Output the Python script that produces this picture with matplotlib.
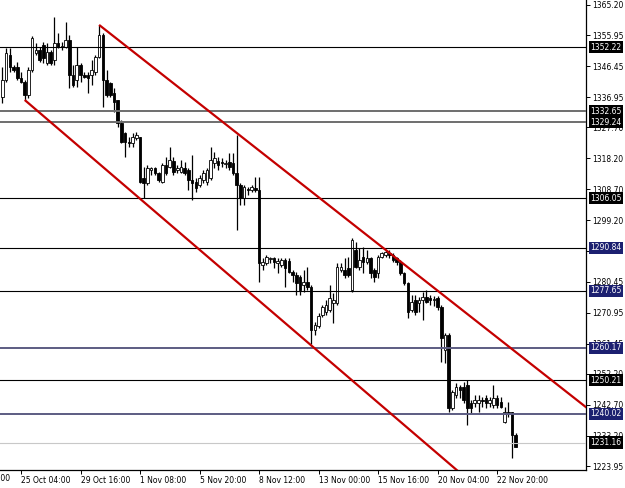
import matplotlib
matplotlib.use("Agg")
import matplotlib.pyplot as plt
import matplotlib.transforms as mtransforms

# --- данные: H4 свечи (O, H, L, C) ---
opens = [
    1337.0, 1342.2, 1349.9, 1346.2, 1346.2, 1342.8, 1341.6, 1337.6, 1345.3, 1350.5,
    1351.4, 1352.9, 1347.4, 1350.8, 1348.3, 1353.6, 1352.3, 1352.3, 1354.5, 1343.7,
    1342.2, 1346.8, 1343.7, 1343.7, 1343.7, 1344.7, 1349.3, 1356.0, 1342.2, 1341.3,
    1338.2, 1336.1, 1329.0, 1326.0, 1323.2, 1322.9, 1324.4, 1324.8, 1312.2, 1310.7,
    1314.6, 1315.3, 1313.7, 1311.0, 1316.2, 1315.6, 1317.4, 1314.6, 1314.0, 1315.3,
    1314.6, 1311.6, 1311.0, 1310.0, 1311.6, 1311.0, 1312.2, 1316.8, 1317.4, 1317.1,
    1316.5, 1317.1, 1316.8, 1313.7, 1310.0, 1306.1, 1308.8, 1308.5, 1309.1, 1308.5,
    1285.5, 1286.2, 1287.4, 1287.7, 1286.2, 1285.5, 1287.1, 1286.8, 1283.4, 1282.5,
    1281.8, 1279.4, 1280.3, 1278.8, 1265.6, 1266.8, 1270.2, 1271.1, 1271.7, 1273.9,
    1273.9, 1284.0, 1284.0, 1284.6, 1277.9, 1290.1, 1284.9, 1288.0, 1286.5, 1287.7,
    1284.0, 1283.1, 1288.0, 1288.6, 1289.2, 1288.6, 1287.7, 1286.5, 1283.1, 1280.0,
    1271.7, 1274.8, 1273.9, 1274.8, 1275.7, 1275.4, 1274.8, 1275.4, 1272.7, 1259.5,
    1264.1, 1241.7, 1245.7, 1248.2, 1248.2, 1248.8, 1243.3, 1243.3, 1243.3, 1244.2,
    1244.8, 1243.3, 1242.6, 1244.8, 1243.6, 1237.4, 1240.5, 1240.5, 1233.5,
]
highs = [
    1346.2, 1352.0, 1352.0, 1346.8, 1347.7, 1344.7, 1342.2, 1346.2, 1355.7, 1353.6,
    1352.3, 1353.9, 1353.6, 1351.4, 1361.5, 1356.6, 1353.9, 1360.0, 1356.0, 1346.8,
    1352.3, 1347.4, 1344.7, 1344.7, 1348.3, 1349.9, 1359.1, 1356.6, 1345.3, 1341.6,
    1339.8, 1336.1, 1330.0, 1326.3, 1324.8, 1326.0, 1326.3, 1324.8, 1315.6, 1316.2,
    1315.6, 1315.6, 1314.0, 1316.8, 1318.6, 1321.7, 1318.6, 1316.2, 1317.7, 1317.1,
    1315.3, 1319.2, 1312.2, 1313.1, 1314.6, 1315.3, 1321.7, 1320.2, 1318.6, 1318.3,
    1317.7, 1319.9, 1319.9, 1325.4, 1310.7, 1310.0, 1309.4, 1310.0, 1312.5, 1312.5,
    1287.7, 1288.6, 1288.0, 1288.0, 1287.7, 1287.7, 1287.7, 1287.7, 1284.0, 1283.4,
    1282.5, 1284.0, 1284.9, 1279.4, 1268.1, 1270.8, 1273.3, 1274.8, 1279.4, 1277.0,
    1286.2, 1286.2, 1287.7, 1288.0, 1293.8, 1292.6, 1290.8, 1291.1, 1290.1, 1288.0,
    1284.6, 1288.6, 1289.5, 1290.1, 1290.1, 1289.2, 1288.0, 1287.1, 1283.4, 1280.3,
    1276.3, 1276.3, 1275.7, 1277.3, 1277.9, 1276.3, 1276.0, 1276.0, 1273.3, 1264.7,
    1264.7, 1247.2, 1249.4, 1248.8, 1249.7, 1250.3, 1244.2, 1245.7, 1245.7, 1245.1,
    1245.7, 1245.1, 1248.8, 1245.7, 1245.1, 1242.0, 1243.6, 1240.5, 1234.1,
]
lows = [
    1335.2, 1341.6, 1344.7, 1344.7, 1342.2, 1341.3, 1336.1, 1336.7, 1344.7, 1349.9,
    1347.7, 1347.4, 1346.8, 1346.8, 1346.8, 1352.0, 1351.4, 1352.0, 1339.8, 1340.1,
    1340.1, 1341.6, 1342.8, 1338.2, 1340.7, 1343.7, 1349.0, 1333.9, 1337.0, 1337.0,
    1332.4, 1327.8, 1322.9, 1318.6, 1321.7, 1321.7, 1323.8, 1310.7, 1306.1, 1310.0,
    1313.1, 1313.1, 1311.0, 1310.7, 1313.1, 1315.3, 1313.1, 1313.7, 1313.7, 1313.1,
    1308.5, 1305.5, 1307.9, 1309.4, 1310.7, 1310.0, 1311.6, 1315.3, 1314.6, 1315.6,
    1315.3, 1314.6, 1313.1, 1296.3, 1303.9, 1303.9, 1307.0, 1307.9, 1307.9, 1280.3,
    1284.0, 1285.5, 1286.2, 1284.6, 1283.1, 1284.9, 1278.8, 1283.1, 1280.3, 1276.3,
    1276.3, 1277.3, 1277.9, 1261.3, 1264.1, 1266.2, 1269.6, 1270.2, 1271.1, 1267.8,
    1273.3, 1283.4, 1281.5, 1281.8, 1277.3, 1284.6, 1284.0, 1283.1, 1285.8, 1281.5,
    1280.3, 1281.5, 1287.7, 1288.0, 1287.7, 1286.5, 1285.5, 1282.5, 1279.4, 1269.3,
    1271.1, 1270.2, 1271.1, 1268.7, 1273.9, 1273.3, 1273.0, 1271.7, 1255.8, 1255.5,
    1240.5, 1241.1, 1244.8, 1244.8, 1243.3, 1236.5, 1240.2, 1242.0, 1240.5, 1242.0,
    1241.7, 1242.0, 1241.7, 1241.7, 1241.7, 1237.1, 1239.0, 1226.4, 1229.8,
]
closes = [
    1342.2, 1350.5, 1346.2, 1345.3, 1342.8, 1341.6, 1337.6, 1345.3, 1355.1, 1351.4,
    1348.3, 1349.0, 1350.8, 1347.4, 1353.6, 1352.3, 1352.6, 1354.5, 1343.7, 1340.7,
    1346.8, 1343.7, 1343.1, 1342.8, 1345.3, 1349.3, 1356.0, 1342.2, 1337.6, 1337.6,
    1335.5, 1329.0, 1323.2, 1323.2, 1322.9, 1324.8, 1325.4, 1311.0, 1310.7, 1315.3,
    1315.3, 1313.7, 1311.6, 1316.2, 1313.7, 1317.7, 1314.0, 1315.3, 1315.6, 1313.7,
    1311.6, 1310.7, 1309.1, 1312.2, 1313.7, 1314.6, 1317.7, 1318.3, 1316.2, 1316.8,
    1316.8, 1315.6, 1313.7, 1310.0, 1306.1, 1309.4, 1308.5, 1309.4, 1308.5, 1286.2,
    1286.5, 1288.0, 1287.7, 1286.5, 1286.8, 1287.1, 1284.6, 1283.4, 1282.5, 1280.0,
    1277.9, 1280.3, 1278.8, 1265.6, 1267.2, 1269.9, 1272.7, 1273.3, 1275.4, 1274.8,
    1284.9, 1284.9, 1282.5, 1282.5, 1293.2, 1284.9, 1287.1, 1286.5, 1287.7, 1283.1,
    1281.8, 1288.0, 1289.2, 1289.5, 1288.6, 1287.1, 1286.5, 1283.1, 1280.0, 1271.1,
    1274.2, 1271.1, 1274.8, 1275.7, 1274.2, 1274.8, 1275.1, 1272.7, 1263.2, 1264.1,
    1241.7, 1246.6, 1248.2, 1247.2, 1244.2, 1241.7, 1241.7, 1244.2, 1244.2, 1243.9,
    1243.3, 1244.2, 1244.8, 1242.6, 1242.0, 1240.5, 1240.2, 1233.5, 1229.8,
]

# подписи оси времени (по 16 баров между метками)
date_ticks = [5, 21, 37, 53, 69, 85, 101, 117, 133]
date_labels = ["25 Oct 04:00", "29 Oct 16:00", "1 Nov 08:00", "5 Nov 20:00",
               "8 Nov 12:00", "13 Nov 00:00", "15 Nov 16:00", "20 Nov 04:00",
               "22 Nov 20:00"]
prev_tick, prev_label = -11, "22 Oct 12:00"

price_ticks = [1365.20, 1355.95, 1346.45, 1336.95, 1327.70, 1318.20, 1308.70,
               1299.20, 1289.95, 1280.45, 1270.95, 1261.45, 1252.20, 1242.70,
               1233.20, 1223.95]

# горизонтальные уровни: цена, цвет линии, толщина, фон плашки
levels = [1352.22, 1332.65, 1329.24, 1306.05, 1290.84, 1277.65,
          1260.17, 1250.21, 1240.02, 1231.16]
level_colors = ["black", "#6e6e6e", "#6e6e6e", "black", "black", "black",
                "#5c5c82", "black", "#5c5c82", "#c8c8c8"]
level_widths = [0.8, 1.4, 1.4, 0.8, 0.8, 0.8, 1.4, 0.8, 1.4, 0.8]
level_boxes = ["black", "black", "black", "black", "#1c2070", "#1c2070",
               "#1c2070", "black", "#1c2070", "black"]

# трендовые линии канала: две опорные точки (бар, цена), дальше луч вправо
upper_pts = [(26, 1359.1), (139, 1258.0)]
lower_pts = [(6, 1336.1), (119, 1225.8)]

fig = plt.figure(figsize=(6.25, 4.88), dpi=100)
ax = fig.add_axes([0, 18 / 488, 586 / 625, 470 / 488])
ax.set_xlim(-0.645, 156.9)
ax.set_ylim(1222.74, 1366.73)

# свечи
n = len(opens)
xs = list(range(n))
ax.vlines(xs, lows, highs, color="black", linewidth=0.9, zorder=2)
for i in xs:
    o, c = opens[i], closes[i]
    bull = c >= o
    h = max(abs(c - o), 0.25)
    ax.bar(i, h, bottom=min(o, c), width=0.7,
           color="white" if bull else "black", edgecolor="black",
           linewidth=0.6, zorder=3)

# уровни + плашки с ценой справа
ytrans = mtransforms.blended_transform_factory(ax.transAxes, ax.transData)
for lvl, col, lw, box in zip(levels, level_colors, level_widths, level_boxes):
    ax.axhline(lvl, color=col, linewidth=lw, zorder=4)
    ax.text(1.007, lvl, f"{lvl:.2f}", transform=ytrans, ha="left", va="center",
            fontsize=5.5, color="white", clip_on=False, zorder=10,
            bbox=dict(boxstyle="square,pad=0.2", fc=box, ec="none"))

# канал (лучи до правого края)
for (x1, y1), (x2, y2) in (upper_pts, lower_pts):
    k = (y2 - y1) / (x2 - x1)
    x_end = 160
    ax.plot([x1, x_end], [y1, y1 + k * (x_end - x1)], color="#c40000",
            linewidth=1.6, zorder=5, solid_capstyle="butt")

# оси в стиле терминала
for side in ("top", "left"):
    ax.spines[side].set_visible(False)
ax.spines["right"].set_linewidth(0.9)
ax.spines["bottom"].set_linewidth(0.9)

ax.yaxis.tick_right()
ax.set_yticks(price_ticks)
ax.set_yticklabels([f"{p:.2f}" for p in price_ticks])
ax.tick_params(axis="y", direction="out", length=3, width=0.7, pad=1.5, labelsize=5.5)

ax.set_xticks(date_ticks)
ax.set_xticklabels(date_labels)
ax.tick_params(axis="x", direction="out", length=3, width=0.7, pad=1.5, labelsize=5.5)
for lab in ax.get_xticklabels():
    lab.set_horizontalalignment("left")

xtrans = mtransforms.blended_transform_factory(ax.transData, ax.transAxes)
ax.text(prev_tick, -0.009, prev_label, transform=xtrans, ha="left", va="top",
        fontsize=5.5, clip_on=False)

fig.savefig("out.png", dpi=100, facecolor="white")
